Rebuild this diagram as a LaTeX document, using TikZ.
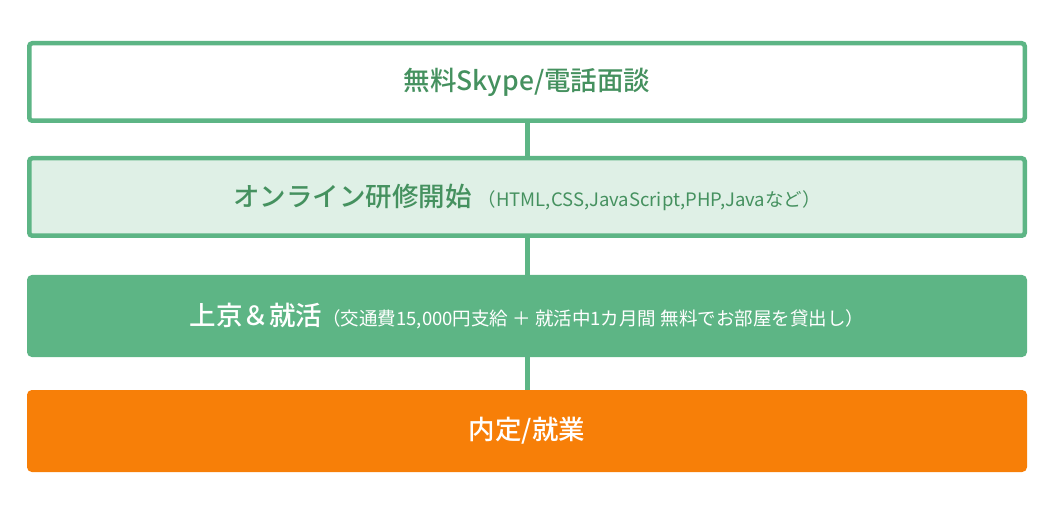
\documentclass[tikz,border=0pt]{standalone}
\usepackage{fontspec}
\newfontfamily\jpfont{Noto Sans CJK JP}
\newfontfamily\jpmid{Noto Sans CJK JP Medium}
\usetikzlibrary{positioning}
\definecolor{flowgreen}{HTML}{5DB585}
\definecolor{flowtext}{HTML}{45915F}
\definecolor{flowlight}{HTML}{DFF0E6}
\definecolor{floworange}{HTML}{F77F08}
\tikzset{
  stage/.style={rectangle, rounded corners=3pt, line width=4.5pt, draw=flowgreen,
    minimum width=995.5pt, minimum height=77.5pt, inner sep=0pt,
    font=\jpmid\fontsize{26.5}{30}\selectfont},
  link/.style={draw=flowgreen, line width=5pt}
}
\newcommand\subnote[1]{{\jpfont\fontsize{18.5}{22}\selectfont #1}}

\begin{document}
\begin{tikzpicture}[x=1pt, y=-1pt]
        \useasboundingbox (0,0) rectangle (1054,510);
        \node[stage, fill=white, text=flowtext] (talk) at (527,82) {無料Skype/電話面談};  %first contact
        \node[stage, fill=flowlight, text=flowtext] (study) [below=33pt of talk]
          {オンライン研修開始 \subnote{（HTML,CSS,JavaScript,PHP,Javaなど）}};
        \node[stage, fill=flowgreen, text=white] (move) [below=37pt of study]
          {上京＆就活\subnote{（交通費15,000円支給 ＋ 就活中1カ月間 無料でお部屋を貸出し）}};
        \node[stage, fill=floworange, draw=floworange, text=white] (job) [below=33pt of move] {内定/就業};

        \path[link]
        (talk) edge (study)
        (study) edge (move)
        (move) edge (job);
      \end{tikzpicture}
\end{document}
